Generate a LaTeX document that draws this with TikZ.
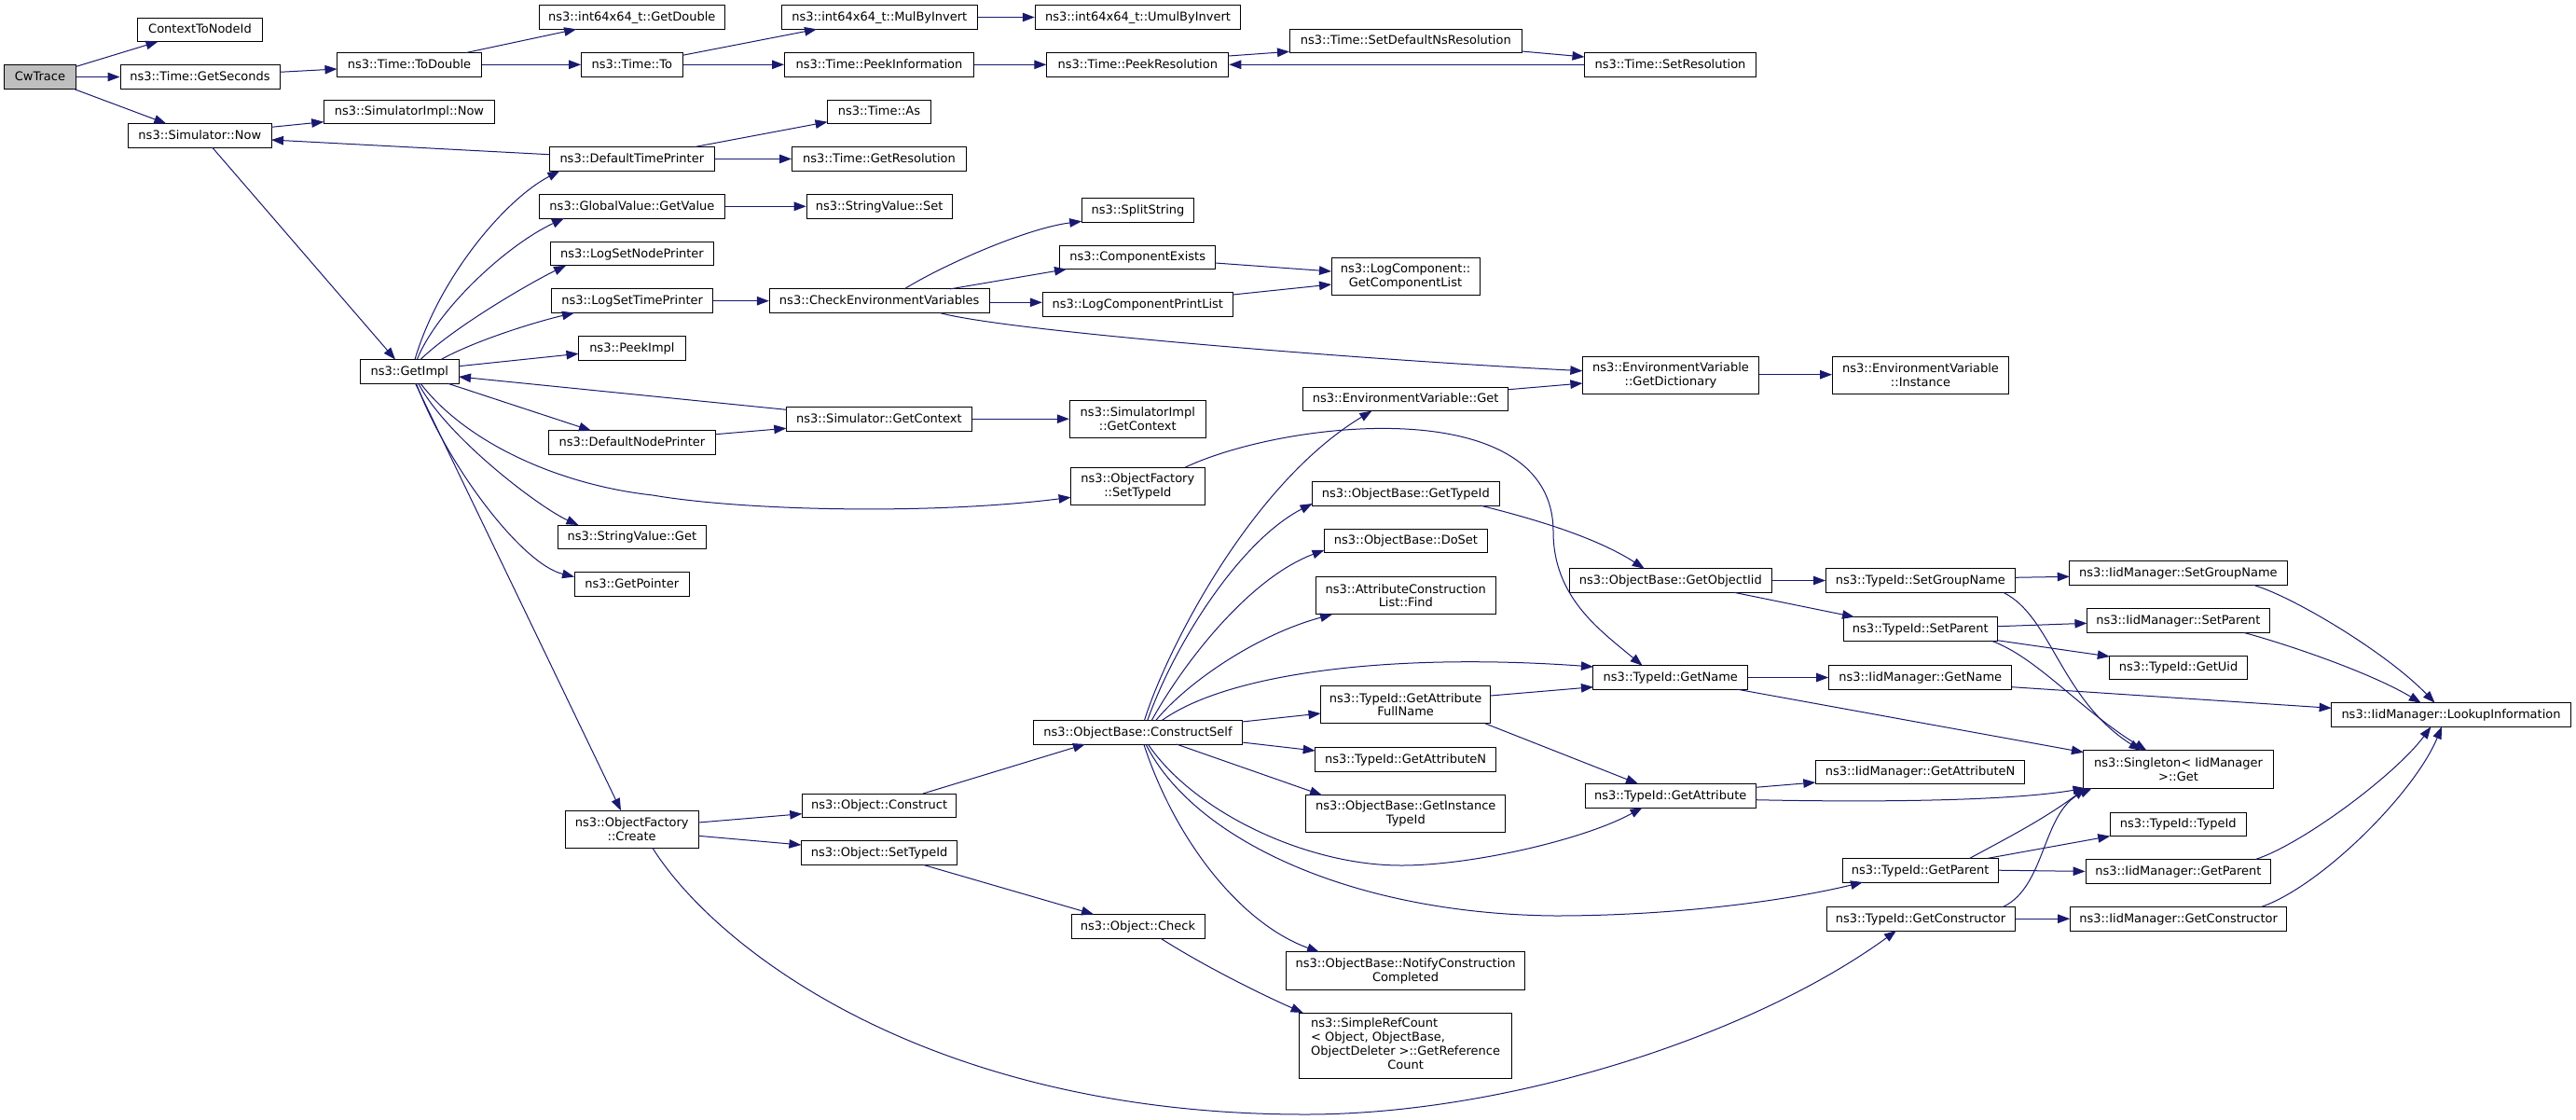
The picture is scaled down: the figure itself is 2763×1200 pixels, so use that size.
\documentclass[tikz,border=0pt]{standalone}
\usepackage{fontspec}
\setmainfont{DejaVu Sans}
\usetikzlibrary{arrows.meta}
\definecolor{edgeblue}{HTML}{191970}
\definecolor{rootgray}{HTML}{BFBFBF}
\newcommand{\dfont}{\fontsize{13}{14.8}\selectfont}
\tikzset{
  box/.style={draw=black, fill=white, line width=1pt, inner sep=0pt, minimum height=25.6pt, text height=10.5pt, text depth=2.5pt, font=\dfont},
  boxtwo/.style={draw=black, fill=white, line width=1pt, inner sep=0pt, minimum height=40.3pt, align=center, font=\dfont},
  edge/.style={draw=edgeblue, line width=1pt, -{Triangle[length=13pt,width=9.5pt]}, edgeblue}
}
\begin{document}
\begin{tikzpicture}[x=1pt,y=-1pt]
\fill[white] (0,0) rectangle (2763,1200);
\useasboundingbox (0,0) rectangle (2763,1200);
% nodes
\node[box, fill=rootgray, minimum width=76.7pt] (cw) at (42.9,82.5) {CwTrace};
\node[box, minimum width=133.4pt] (ctn) at (214.5,31.8) {ContextToNodeId};
\node[box, minimum width=171pt] (gsec) at (214.5,82.5) {ns3::Time::GetSeconds};
\node[box, minimum width=155pt] (todbl) at (439,69.3) {ns3::Time::ToDouble};
\node[box, minimum width=199pt] (gdbl) at (677.8,18.5) {ns3::int64x64\_t::GetDouble};
\node[box, minimum width=108.4pt] (tto) at (677.8,69.3) {ns3::Time::To};
\node[box, minimum width=209.8pt] (mul) at (943.3,18.5) {ns3::int64x64\_t::MulByInvert};
\node[box, minimum width=220.5pt] (umul) at (1220.5,18.5) {ns3::int64x64\_t::UmulByInvert};
\node[box, minimum width=203pt] (pinfo) at (943,69.3) {ns3::Time::PeekInformation};
\node[box, minimum width=195pt] (pres) at (1220.3,69.3) {ns3::Time::PeekResolution};
\node[box, minimum width=249.6pt] (sdns) at (1507.8,43.85) {ns3::Time::SetDefaultNsResolution};
\node[box, minimum width=184pt] (sres) at (1791.5,69.3) {ns3::Time::SetResolution};
\node[box, minimum width=183.5pt] (simnow) at (439,119.8) {ns3::SimulatorImpl::Now};
\node[box, minimum width=153.5pt] (snow) at (214.3,145.3) {ns3::Simulator::Now};
\node[box, minimum width=177.5pt] (dtp) at (677.8,170.4) {ns3::DefaultTimePrinter};
\node[box, minimum width=110.7pt] (tas) at (942.9,119.8) {ns3::Time::As};
\node[box, minimum width=187pt] (gres) at (943,170.4) {ns3::Time::GetResolution};
\node[box, minimum width=198.7pt] (gval) at (677.9,221.3) {ns3::GlobalValue::GetValue};
\node[box, minimum width=155.8pt] (sset) at (943.1,221.3) {ns3::StringValue::Set};
\node[box, minimum width=174.6pt] (lsnp) at (677.9,272) {ns3::LogSetNodePrinter};
\node[box, minimum width=173.2pt] (lstp) at (678.1,322.7) {ns3::LogSetTimePrinter};
\node[box, minimum width=114.8pt] (peek) at (677.9,373.3) {ns3::PeekImpl};
\node[box, minimum width=105.4pt] (gimpl) at (439.3,398.3) {ns3::GetImpl};
\node[box, minimum width=235.7pt] (cev) at (943.2,322.7) {ns3::CheckEnvironmentVariables};
\node[box, minimum width=120.6pt] (split) at (1220.5,225.2) {ns3::SplitString};
\node[box, minimum width=166.5pt] (cexists) at (1220.2,275.8) {ns3::ComponentExists};
\node[box, minimum width=204pt] (lcpl) at (1220.3,326.5) {ns3::LogComponentPrintList};
\node[boxtwo, minimum width=159pt] (gcl) at (1507.5,296.8) {ns3::LogComponent::\\GetComponentList};
\node[boxtwo, minimum width=189.3pt] (gdict) at (1792,402.5) {ns3::EnvironmentVariable\\::GetDictionary};
\node[boxtwo, minimum width=189pt] (inst) at (2060,402.5) {ns3::EnvironmentVariable\\::Instance};
\node[box, minimum width=220.7pt] (evget) at (1507.6,427.8) {ns3::EnvironmentVariable::Get};
\node[box, minimum width=179pt] (dnp) at (677.9,474.5) {ns3::DefaultNodePrinter};
\node[box, minimum width=158.5pt] (sget) at (677.9,575.8) {ns3::StringValue::Get};
\node[box, minimum width=123.3pt] (gptr) at (677.7,626.5) {ns3::GetPointer};
\node[box, minimum width=199pt] (sgc) at (942.9,449.2) {ns3::Simulator::GetContext};
\node[boxtwo, minimum width=146pt] (sigc) at (1220.3,449.2) {ns3::SimulatorImpl\\::GetContext};
\node[boxtwo, minimum width=143.4pt] (ofst) at (1220.3,521.2) {ns3::ObjectFactory\\::SetTypeId};
\node[box, minimum width=223.2pt] (cself) at (1220.5,785.2) {ns3::ObjectBase::ConstructSelf};
\node[box, minimum width=200.4pt] (obgti) at (1507.8,529.2) {ns3::ObjectBase::GetTypeId};
\node[box, minimum width=175pt] (doset) at (1508,579.8) {ns3::ObjectBase::DoSet};
\node[boxtwo, minimum width=192.4pt] (alf) at (1507.8,638.7) {ns3::AttributeConstruction\\List::Find};
\node[box, minimum width=216.5pt] (goi) at (1791.8,622.5) {ns3::ObjectBase::GetObjectIid};
\node[box, minimum width=202.8pt] (sgn) at (2059.9,622.5) {ns3::TypeId::SetGroupName};
\node[box, minimum width=165pt] (spar) at (2059.8,674.4) {ns3::TypeId::SetParent};
\node[box, minimum width=165.7pt] (gname) at (1791.8,726.5) {ns3::TypeId::GetName};
\node[box, minimum width=196.3pt] (igname) at (2059.8,726.5) {ns3::IidManager::GetName};
\node[boxtwo, minimum width=182.2pt] (gfn) at (1507.6,755.7) {ns3::TypeId::GetAttribute\\FullName};
\node[box, minimum width=233.3pt] (isgn) at (2336.4,614.5) {ns3::IidManager::SetGroupName};
\node[box, minimum width=196pt] (ispar) at (2336.4,665.5) {ns3::IidManager::SetParent};
\node[box, minimum width=148.4pt] (guid) at (2336.6,715.8) {ns3::TypeId::GetUid};
\node[box, minimum width=256.7pt] (lookup) at (2629,766.5) {ns3::IidManager::LookupInformation};
\node[boxtwo, minimum width=143pt] (create) at (677.7,889.3) {ns3::ObjectFactory\\::Create};
\node[box, minimum width=165.6pt] (ocons) at (943.1,863.8) {ns3::Object::Construct};
\node[box, minimum width=167.4pt] (osti) at (943.1,914.5) {ns3::Object::SetTypeId};
\node[box, minimum width=143pt] (ocheck) at (1220.5,993.2) {ns3::Object::Check};
\node[boxtwo, minimum width=256.3pt] (ncc) at (1507.6,1041) {ns3::ObjectBase::NotifyConstruction\\Completed};
\node[draw=black, fill=white, line width=1pt, inner sep=0pt, minimum height=70pt, minimum width=228.6pt, font=\dfont] (src) at (1507.6,1121)
  {\begin{tabular}{@{}l@{}}ns3::SimpleRefCount\\< Object, ObjectBase,\\\multicolumn{1}{@{}c@{}}{ObjectDeleter >::GetReference}\\\multicolumn{1}{@{}c@{}}{Count}\end{tabular}};
\node[box, minimum width=193.8pt] (gattrn) at (1507.6,814.5) {ns3::TypeId::GetAttributeN};
\node[boxtwo, minimum width=213.8pt] (giti) at (1507.8,872.8) {ns3::ObjectBase::GetInstance\\TypeId};
\node[box, minimum width=182.6pt] (gattr) at (1791.7,853.2) {ns3::TypeId::GetAttribute};
\node[box, minimum width=224.6pt] (igattrn) at (2059.6,827.8) {ns3::IidManager::GetAttributeN};
\node[box, minimum width=166.8pt] (gpar) at (2059.7,933.2) {ns3::TypeId::GetParent};
\node[box, minimum width=202pt] (gcons) at (2060,985.2) {ns3::TypeId::GetConstructor};
\node[boxtwo, minimum width=203.3pt] (single) at (2336.5,825) {ns3::Singleton< IidManager\\>::Get};
\node[box, minimum width=146pt] (ttid) at (2336.2,883.8) {ns3::TypeId::TypeId};
\node[box, minimum width=198.7pt] (igpar) at (2336.4,934.4) {ns3::IidManager::GetParent};
\node[box, minimum width=232pt] (igcons) at (2336.6,985.2) {ns3::IidManager::GetConstructor};
% edges
\draw[edge] ([shift={(38.3,-11)}]cw.center) -- ([shift={(-45,12.8)}]ctn.center);
\draw[edge] (cw.east) -- (gsec.west);
\draw[edge] ([shift={(36,12.8)}]cw.center) -- ([shift={(-36,-12.8)}]snow.center);
\draw[edge] ([shift={(85.5,-5.2)}]gsec.center) -- ([shift={(-77.5,4.7)}]todbl.center);
\draw[edge] ([shift={(61,-12.8)}]todbl.center) -- ([shift={(-59.6,12.8)}]gdbl.center);
\draw[edge] (todbl.east) -- (tto.west);
\draw[edge] ([shift={(54.2,-10)}]tto.center) -- ([shift={(-67.3,12.8)}]mul.center);
\draw[edge] (tto.east) -- (pinfo.west);
\draw[edge] (mul.east) -- (umul.west);
\draw[edge] (pinfo.east) -- (pres.west);
\draw[edge] ([shift={(97.5,-9.3)}]pres.center) -- ([shift={(-124.8,11.5)}]sdns.center);
\draw[edge] ([shift={(124.8,11.2)}]sdns.center) -- ([shift={(-92,-8.3)}]sres.center);
\draw[edge] (sres.west) -- (pres.east);
\draw[edge] ([shift={(76.75,-9)}]snow.center) -- ([shift={(-91.75,10.9)}]simnow.center);
\draw[edge] ([shift={(-88.75,-4.7)}]dtp.center) -- ([shift={(76.75,4.7)}]snow.center);
\draw[edge] ([shift={(13.4,12.8)}]snow.center) -- ([shift={(-15.3,-12.8)}]gimpl.center);
\draw[edge] ([shift={(5.7,-12.8)}]gimpl.center) .. controls (470,300) and (540,215) .. ([shift={(-77.4,12.8)}]dtp.center);
\draw[edge] ([shift={(8,-12.8)}]gimpl.center) .. controls (470,330) and (545,262) .. ([shift={(-72.9,12.8)}]gval.center);
\draw[edge] ([shift={(11.7,-12.8)}]gimpl.center) .. controls (490,348) and (575,300) .. ([shift={(-70.9,12.8)}]lsnp.center);
\draw[edge] ([shift={(33.7,-12.8)}]gimpl.center) .. controls (510,365) and (575,345) .. ([shift={(-62.1,12.8)}]lstp.center);
\draw[edge] ([shift={(52.7,-5.6)}]gimpl.center) -- ([shift={(-57.4,6)}]peek.center);
\draw[edge] ([shift={(-99.6,-9.9)}]sgc.center) -- ([shift={(52.7,5.7)}]gimpl.center);
\draw[edge] ([shift={(40.7,12.8)}]gimpl.center) -- ([shift={(-43.9,-12.8)}]dnp.center);
\draw[edge] ([shift={(89.5,-8.8)}]dnp.center) -- ([shift={(-99.6,10.1)}]sgc.center);
\draw[edge] (sgc.east) -- (sigc.west);
\draw[edge] ([shift={(11.7,12.8)}]gimpl.center) .. controls (500,475) and (600,520) .. (700,531) .. controls (800,548) and (1000,552) .. ([shift={(-71.7,12.1)}]ofst.center);
\draw[edge] ([shift={(9.4,12.8)}]gimpl.center) .. controls (480,470) and (580,545) .. ([shift={(-57.4,-12.8)}]sget.center);
\draw[edge] ([shift={(7.1,12.8)}]gimpl.center) .. controls (480,500) and (560,605) .. ([shift={(-61.65,-8)}]gptr.center);
\draw[edge] ([shift={(6.2,12.8)}]gimpl.center) -- ([shift={(-11.7,-20.15)}]create.center);
\draw[edge] (lstp.east) -- (cev.west);
\draw[edge] (gval.east) -- (sset.west);
\draw[edge] ([shift={(66.8,-12.8)}]dtp.center) -- ([shift={(-55.35,10.9)}]tas.center);
\draw[edge] (dtp.east) -- (gres.west);
\draw[edge] ([shift={(26.8,-12.8)}]cev.center) .. controls (1010,285) and (1100,245) .. ([shift={(-60.3,12.1)}]split.center);
\draw[edge] ([shift={(75.8,-12.8)}]cev.center) -- ([shift={(-76.2,12.8)}]cexists.center);
\draw[edge] ([shift={(0,1.6)}]cev.east) -- ([shift={(0,-2.2)}]lcpl.west);
\draw[edge] ([shift={(64.8,12.8)}]cev.center) .. controls (1080,355) and (1450,385) .. ([shift={(-94.65,-4.8)}]gdict.center);
\draw[edge] ([shift={(83.25,6.2)}]cexists.center) -- ([shift={(-79.5,-5.8)}]gcl.center);
\draw[edge] ([shift={(102,-10.5)}]lcpl.center) -- ([shift={(-79.5,8.2)}]gcl.center);
\draw[edge] ([shift={(110.35,-10.1)}]evget.center) -- ([shift={(-94.65,8.5)}]gdict.center);
\draw[edge] ([shift={(0,-0.8)}]gdict.east) -- ([shift={(0,-0.8)}]inst.west);
\draw[edge] ([shift={(51.1,-20.15)}]ofst.center) .. controls (1380,450) and (1666,420) .. (1666,570) .. controls (1666,640) and (1715,675) .. ([shift={(-30.2,-12.8)}]gname.center);
\draw[edge] ([shift={(7,-12.8)}]cself.center) .. controls (1250,700) and (1340,520) .. ([shift={(-36.2,12.8)}]evget.center);
\draw[edge] ([shift={(10.3,-12.8)}]cself.center) .. controls (1260,690) and (1330,580) .. ([shift={(-100.2,10.8)}]obgti.center);
\draw[edge] ([shift={(14.8,-12.8)}]cself.center) .. controls (1270,710) and (1340,620) .. ([shift={(-87.5,10)}]doset.center);
\draw[edge] ([shift={(19.3,-12.8)}]cself.center) .. controls (1275,730) and (1350,680) .. ([shift={(-78.8,20.15)}]alf.center);
\draw[edge] ([shift={(25.9,-12.8)}]cself.center) .. controls (1320,720) and (1500,700) .. ([shift={(-82.85,-11.5)}]gname.center);
\draw[edge] ([shift={(111.6,-11.2)}]cself.center) -- ([shift={(-91.1,9.3)}]gfn.center);
\draw[edge] ([shift={(111.6,10.8)}]cself.center) -- ([shift={(-96.9,-9.5)}]gattrn.center);
\draw[edge] ([shift={(41.3,12.8)}]cself.center) -- ([shift={(-89.8,-20.15)}]giti.center);
\draw[edge] ([shift={(10.8,12.8)}]cself.center) .. controls (1280,870) and (1400,928) .. (1503,928) .. controls (1580,928) and (1700,900) .. ([shift={(-30.1,12.8)}]gattr.center);
\draw[edge] ([shift={(8.5,12.8)}]cself.center) .. controls (1280,900) and (1450,980) .. (1668,982) .. controls (1800,982) and (1920,965) .. ([shift={(-61.7,12.8)}]gpar.center);
\draw[edge] ([shift={(6.3,12.8)}]cself.center) .. controls (1260,900) and (1330,990) .. ([shift={(-92.6,-20.15)}]ncc.center);
\draw[edge] ([shift={(46.9,-12.8)}]ocons.center) -- ([shift={(-56.5,12.8)}]cself.center);
\draw[edge] ([shift={(71.4,-7.3)}]create.center) -- ([shift={(-82.8,8.9)}]ocons.center);
\draw[edge] ([shift={(71.4,7)}]create.center) -- ([shift={(-83.7,-8.5)}]osti.center);
\draw[edge] ([shift={(46.9,12.8)}]osti.center) -- ([shift={(-47.5,-12.8)}]ocheck.center);
\draw[edge] ([shift={(24.1,12.8)}]ocheck.center) .. controls (1290,1035) and (1350,1065) .. ([shift={(-110,-35)}]src.center);
\draw[edge] ([shift={(22.3,20.15)}]create.center) .. controls (770,1020) and (1000,1195) .. (1400,1195) .. controls (1620,1195) and (1880,1110) .. ([shift={(-26,12.8)}]gcons.center);
\draw[edge] ([shift={(79.7,12.8)}]obgti.center) .. controls (1640,555) and (1710,575) .. ([shift={(-28,-12.8)}]goi.center);
\draw[edge] (goi.east) -- (sgn.west);
\draw[edge] ([shift={(68.2,12.8)}]goi.center) -- ([shift={(-70.8,-12.8)}]spar.center);
\draw[edge] (gname.east) -- (igname.west);
\draw[edge] ([shift={(72.2,12.8)}]gname.center) -- ([shift={(-101.6,-18.3)}]single.center);
\draw[edge] ([shift={(91.1,-9.7)}]gfn.center) -- ([shift={(-82.85,10.2)}]gname.center);
\draw[edge] ([shift={(85.4,20.15)}]gfn.center) -- ([shift={(-34.7,-12.8)}]gattr.center);
\draw[edge] ([shift={(91.3,-8.9)}]gattr.center) -- ([shift={(-112.3,11.2)}]igattrn.center);
\draw[edge] ([shift={(91.3,4.5)}]gattr.center) .. controls (1990,860) and (2150,860) .. ([shift={(-100,20.15)}]single.center);
\draw[edge] ([shift={(101.4,-3.2)}]sgn.center) -- ([shift={(-116.65,3.8)}]isgn.center);
\draw[edge] ([shift={(88.7,12.8)}]sgn.center) .. controls (2200,660) and (2210,750) .. ([shift={(-40,-20.15)}]single.center);
\draw[edge] ([shift={(82.5,-2.7)}]spar.center) -- ([shift={(-98,2.8)}]ispar.center);
\draw[edge] ([shift={(82.5,12.3)}]spar.center) -- ([shift={(-73.8,-11.8)}]guid.center);
\draw[edge] ([shift={(76.2,12.8)}]spar.center) .. controls (2185,705) and (2230,760) .. ([shift={(-34,-20.15)}]single.center);
\draw[edge] ([shift={(98.1,10.2)}]igname.center) -- ([shift={(-128.35,-7.2)}]lookup.center);
\draw[edge] ([shift={(80.6,12.8)}]isgn.center) .. controls (2460,640) and (2560,700) .. ([shift={(-17.4,-12.8)}]lookup.center);
\draw[edge] ([shift={(70.1,12.8)}]ispar.center) .. controls (2450,690) and (2540,720) .. ([shift={(-32.2,-12.8)}]lookup.center);
\draw[edge] ([shift={(72,-12.8)}]gpar.center) -- ([shift={(-73,12.8)}]ttid.center);
\draw[edge] (gpar.east) -- (igpar.west);
\draw[edge] ([shift={(53,-12.8)}]gpar.center) .. controls (2150,900) and (2190,880) .. ([shift={(-99.5,20.15)}]single.center);
\draw[edge] (gcons.east) -- (igcons.west);
\draw[edge] ([shift={(88.6,-12.8)}]gcons.center) .. controls (2195,950) and (2190,870) .. ([shift={(-92.7,20.15)}]single.center);
\draw[edge] ([shift={(82.6,-12.8)}]igpar.center) .. controls (2470,905) and (2570,830) .. ([shift={(-21.6,12.8)}]lookup.center);
\draw[edge] ([shift={(89,-12.8)}]igcons.center) .. controls (2490,950) and (2590,850) .. ([shift={(-10,12.8)}]lookup.center);
\end{tikzpicture}
\end{document}
